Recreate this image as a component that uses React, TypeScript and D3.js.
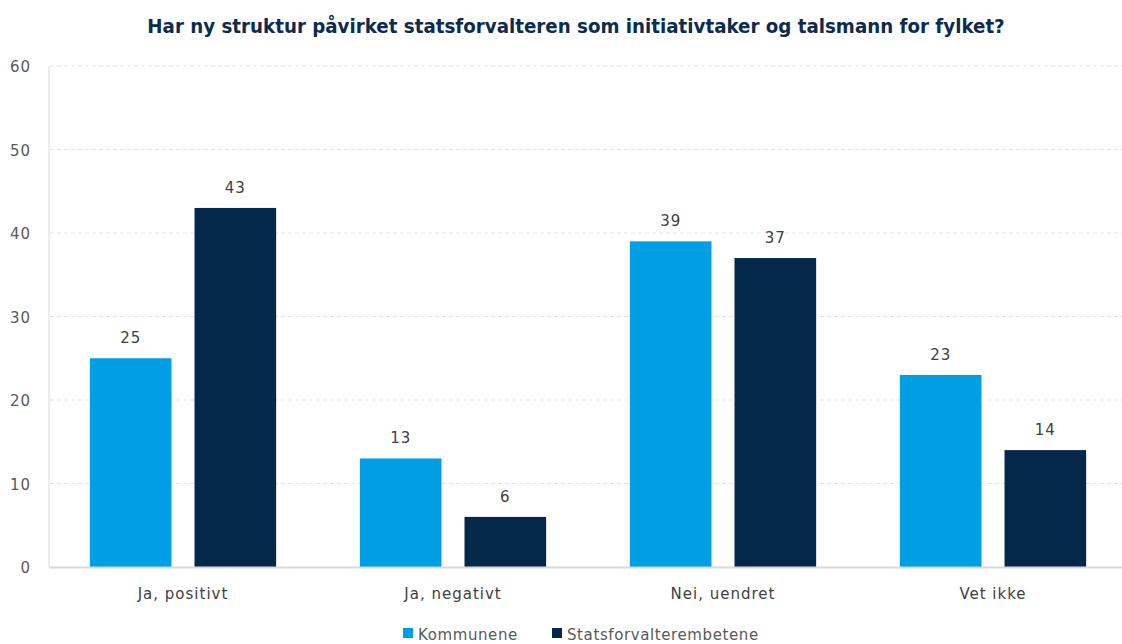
import React from "react";
import * as d3 from "d3";

const categories = ["Ja, positivt", "Ja, negativt", "Nei, uendret", "Vet ikke"];
const seriesNames = ["Kommunene", "Statsforvalterembetene"];
const kommunene = [25, 13, 39, 23];
const statsforvalter = [43, 6, 37, 14];
const yTicks = [0, 10, 20, 30, 40, 50, 60];
const colors = ["#009FE3", "#03284A"];
const title = "Har ny struktur påvirket statsforvalteren som initiativtaker og talsmann for fylket?";

export default function App() {
  const W = 1122, H = 644;
  const left = 48, right = 1128, top = 66, bottom = 567;
  const x0 = d3.scaleBand<string>().domain(categories).range([left, right]).paddingInner(0).paddingOuter(0);
  const x1 = d3.scaleBand<string>().domain(seriesNames).range([0, x0.bandwidth()]).paddingInner(0.22).paddingOuter(0.4);
  const y = d3.scaleLinear().domain([0, 60]).range([bottom, top]);
  const series = [kommunene, statsforvalter];
  const lblFont = { fontFamily: "'DejaVu Sans', Verdana, sans-serif", fontSize: 15, letterSpacing: 1 } as const;
  return (
    <svg width={W} height={H} style={{ position: "absolute", left: 0, top: 0, background: "#fff" }}>
      <text x={576} y={33} textAnchor="middle" fontFamily="'DejaVu Sans Condensed', sans-serif" fontWeight="bold" fontSize={20.3} fill="#0D2B4E">{title}</text>
      {yTicks.map((t) => (
        <g key={t}>
          {t > 0 && <line x1={left + 2} x2={W} y1={y(t)} y2={y(t)} stroke="#e3e3e3" strokeDasharray="4,3" />}
          <text x={31} y={y(t) + 6} textAnchor="end" {...lblFont} fill="#595959">{t}</text>
        </g>
      ))}
      <line x1={left + 1} x2={left + 1} y1={top} y2={bottom} stroke="#d9d9d9" />
      {series.map((vals, si) =>
        vals.map((v, i) => {
          const bx = (x0(categories[i]) as number) + (x1(seriesNames[si]) as number);
          return (
            <g key={si + "-" + i}>
              <rect x={bx} y={y(v)} width={x1.bandwidth()} height={bottom - y(v)} fill={colors[si]} />
              <text x={bx + x1.bandwidth() / 2} y={y(v) - 15} textAnchor="middle" {...lblFont} fill="#404040">{v}</text>
            </g>
          );
        })
      )}
      <line x1={left + 1} x2={W} y1={bottom + 0.5} y2={bottom + 0.5} stroke="#d9d9d9" strokeWidth={2} />
      {categories.map((c) => (
        <text key={c} x={(x0(c) as number) + x0.bandwidth() / 2} y={599} textAnchor="middle" {...lblFont} fill="#404040">{c}</text>
      ))}
      {seriesNames.map((s, i) => {
        const lx = [403, 552][i];
        return (
          <g key={s}>
            <rect x={lx} y={628} width={10} height={10} fill={colors[i]} />
            <text x={lx + 15} y={640} {...lblFont} letterSpacing={0.6} fill="#595959">{s}</text>
          </g>
        );
      })}
    </svg>
  );
}
